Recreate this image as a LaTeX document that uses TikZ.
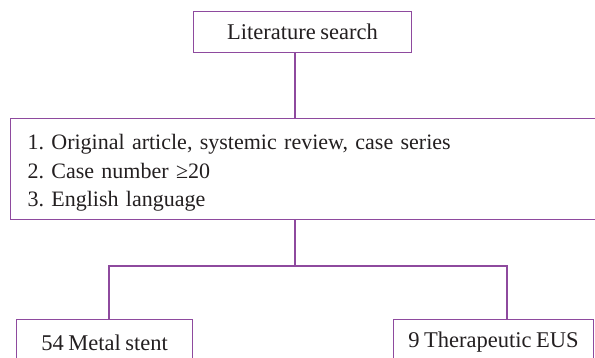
\documentclass[tikz,border=0pt]{standalone}
\usepackage{fontspec}
\setmainfont{Liberation Serif}
\definecolor{plum}{HTML}{8E4A9E}
\definecolor{ink}{HTML}{231F20}
\newcommand\boxfont{\fontsize{22.5}{28.5}\selectfont\spaceskip 0.2em plus 0.1em\relax}
\newcommand\listfont{\fontsize{22}{28.5}\selectfont\spaceskip 0.2em plus 0.1em\relax}

\begin{document}
\frenchspacing
\begin{tikzpicture}[x=1pt,y=-1pt,
  every node/.style={text=ink,font=\boxfont},
  flowbox/.style={draw=plum,line width=1.1pt,inner sep=0pt,anchor=north west},
  link/.style={draw=plum,line width=1.1pt}]
\useasboundingbox (0,0) rectangle (595,357);
\clip (0,0) rectangle (595,357);
% boxes
\node[flowbox,minimum width=218pt,minimum height=41pt] (search) at (193,11) {Literature search};
\node[flowbox,minimum width=600pt,minimum height=101pt,text width=583pt,align=left,
  inner xsep=17pt,font=\listfont] (criteria) at (10,118)
  {\rule{0pt}{23pt}1. Original article, systemic review, case series\\
   2. Case number ≥20\\
   3. English language};
\node[flowbox,minimum width=176pt,minimum height=46pt] (metal) at (16,319) {54 Metal stent};
\node[flowbox,minimum width=200pt,minimum height=46pt] (eus) at (393,319) {9 Therapeutic EUS};
% connectors
\coordinate (trunk) at (295,0);
\coordinate (fork) at (295,266);
\coordinate (lbranch) at (109,0);
\coordinate (rbranch) at (507,0);
\draw[link] (search.south -| trunk) -- (criteria.north -| trunk);
\draw[link] (criteria.south -| trunk) -- (fork);
\draw[link] (metal.north -| lbranch) |- (fork) -| (eus.north -| rbranch);
\end{tikzpicture}
\end{document}
